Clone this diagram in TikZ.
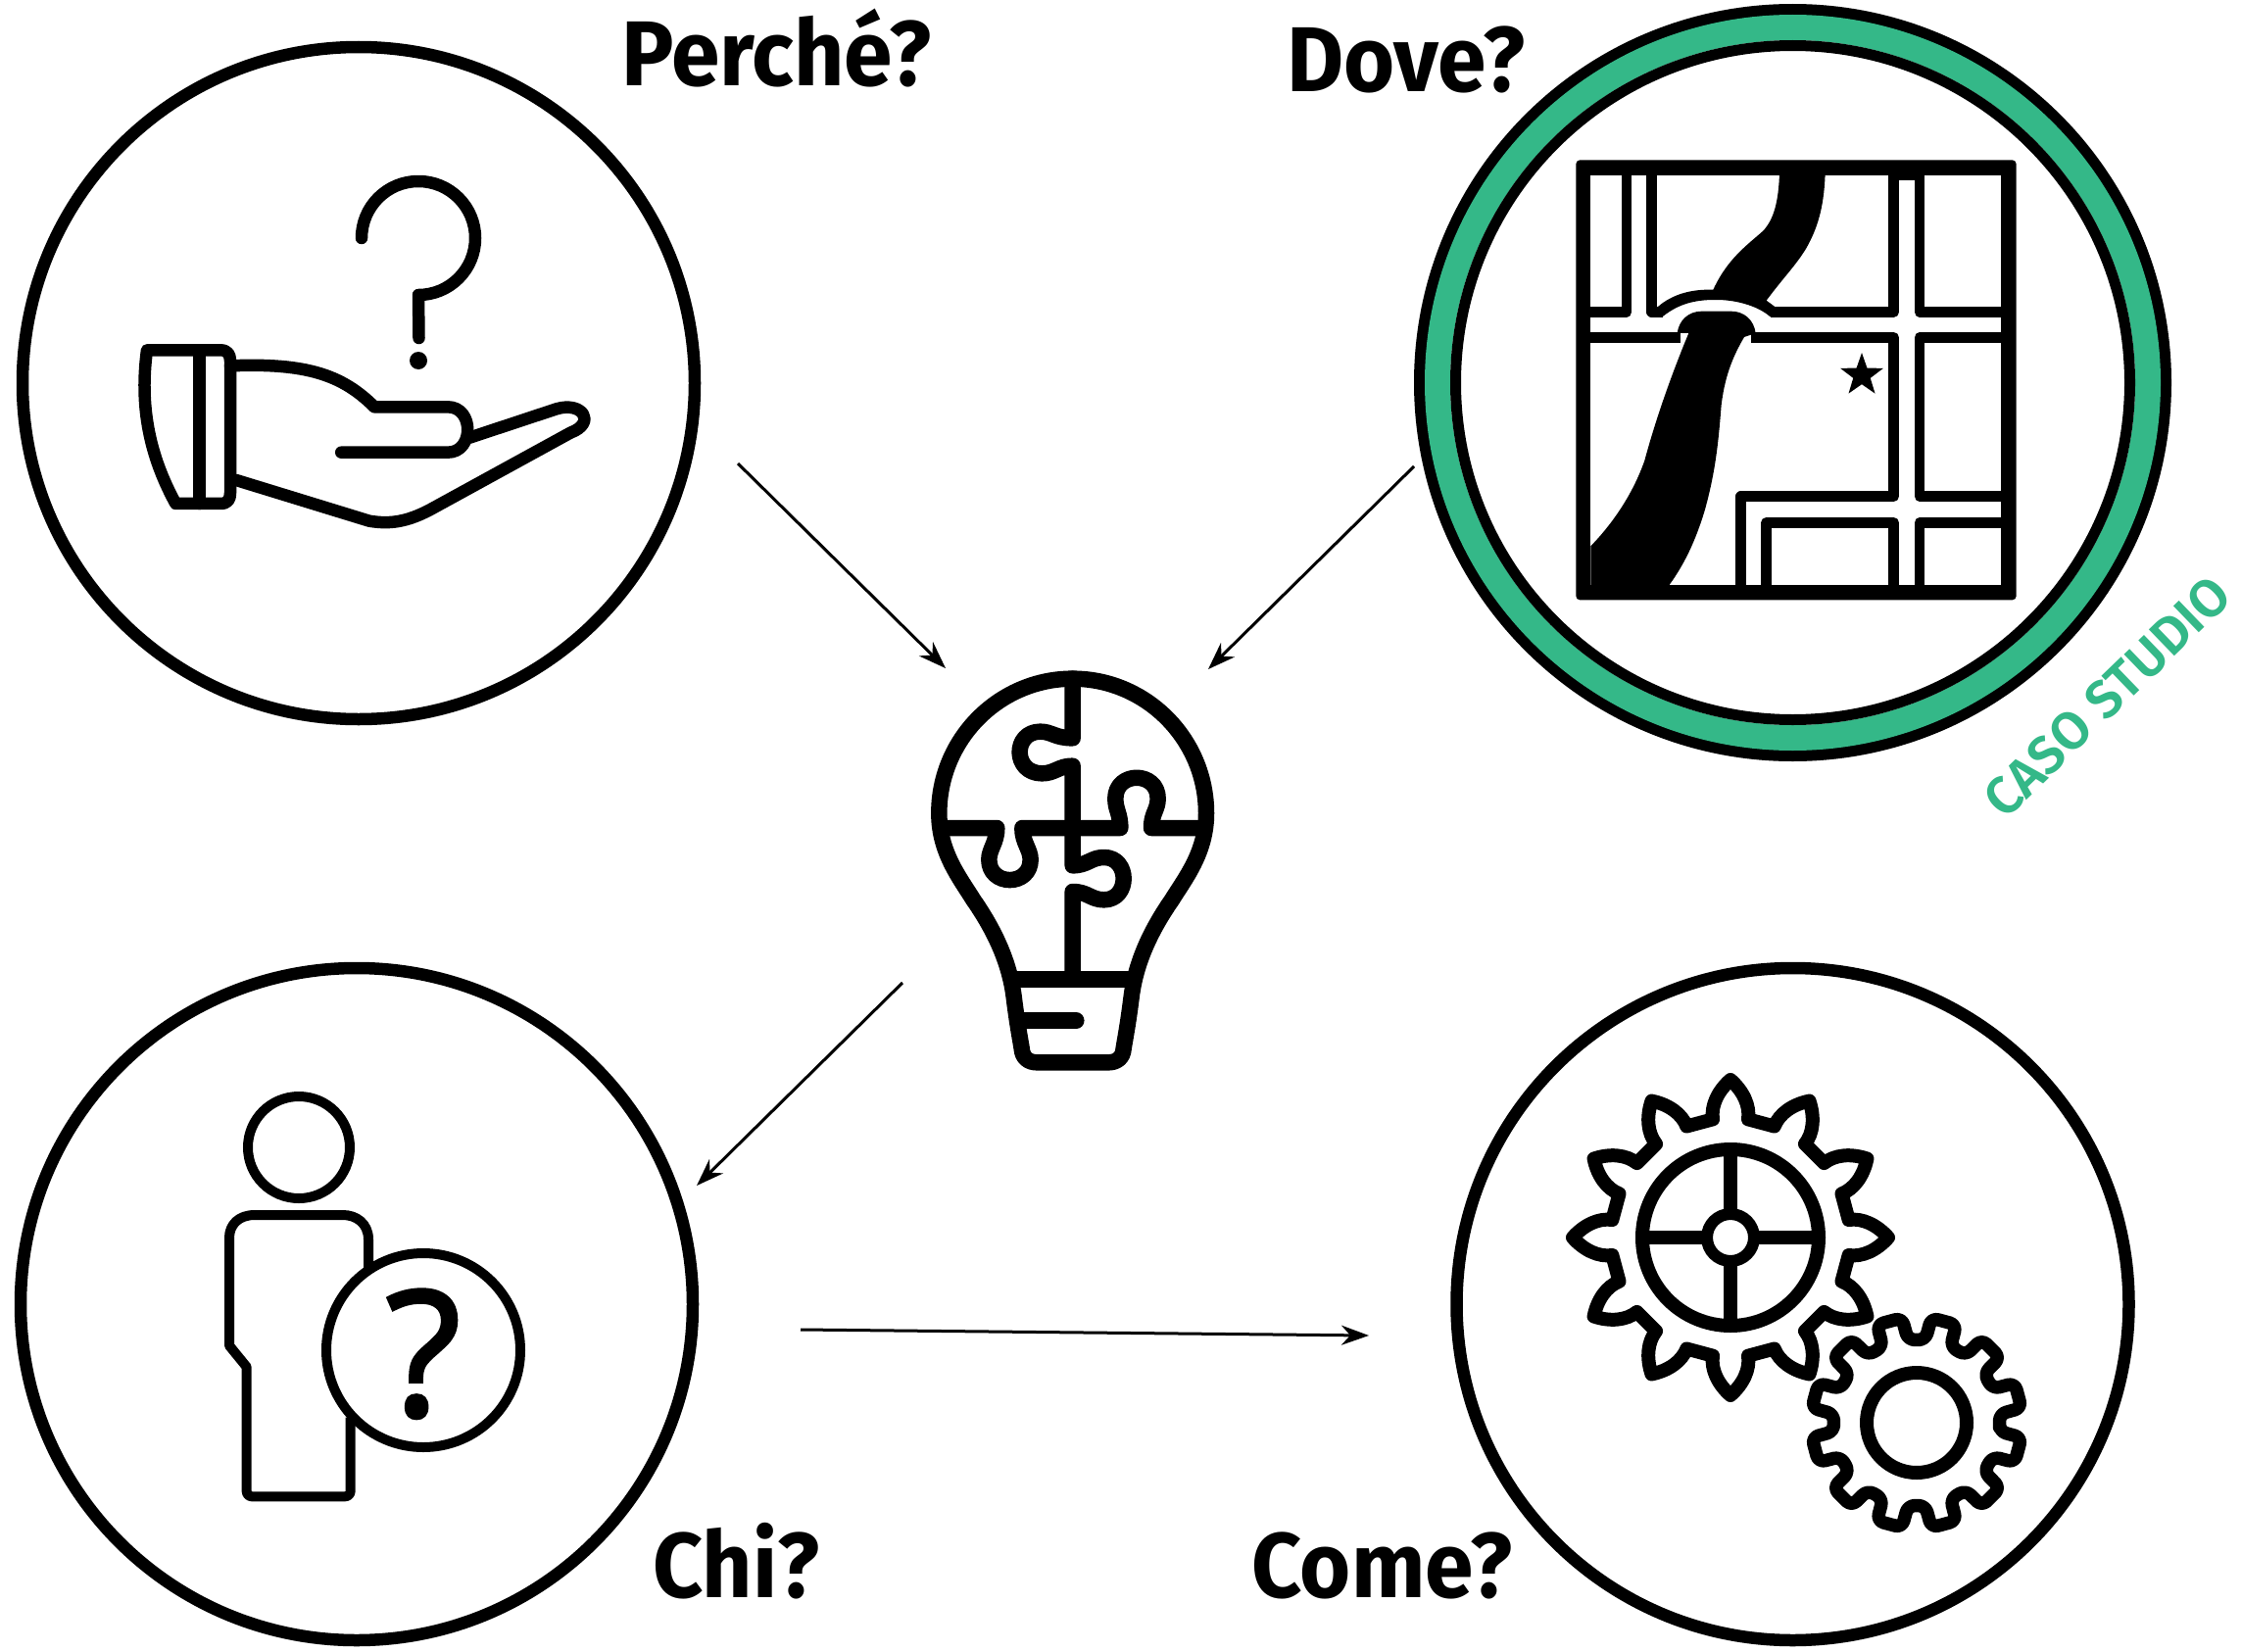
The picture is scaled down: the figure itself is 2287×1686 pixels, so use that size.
\documentclass[tikz,border=0pt]{standalone}
\usepackage{fontspec}
\usetikzlibrary{arrows.meta,shapes.geometric}
\newfontfamily\labfont[FakeStretch=0.95]{Fira Sans Bold}
\newfontfamily\casofont{Fira Sans SemiBold}
\newfontfamily\qfont[FakeBold=2]{Open Sans}
\definecolor{casogreen}{HTML}{34B888}
\tikzset{
 ringnode/.style={circle,draw=black,line width=12.5pt,minimum size=686pt,inner sep=0pt,fill=white},
 flowarrow/.style={draw=black,line width=3pt,-{Stealth[length=28pt,width=20pt,inset=9pt]}},
 ink/.style={draw=black,line width=#1,line join=round,line cap=round},
 ink/.default=12pt,
 qlabel/.style={anchor=base west,inner sep=0pt,font=\labfont\fontsize{94}{94}\selectfont},
 zhand/.style={shift={(100,140)},x=0.35714pt,y=-0.33333pt},
 zmap/.style={shift={(1580,140)},x=0.33333pt,y=-0.33333pt},
 zbulb/.style={shift={(930,670)},x=0.33333pt,y=-0.33333pt},
 zman/.style={shift={(210,1100)},x=0.33333pt,y=-0.33333pt},
}
\begin{document}
\begin{tikzpicture}[x=1pt,y=-1pt]
\useasboundingbox (0,0) rectangle (2287,1686);
\fill[white] (0,0) rectangle (2287,1686);
% circles
\node[ringnode] (why) at (366,391) {};
\node[ringnode] (who) at (364,1331) {};
\node[ringnode] (how) at (1829.5,1331) {};
\node[ringnode,line width=11.5pt,minimum size=761.5pt] (whereout) at (1829.5,390.5) {};
\node[circle,draw=casogreen,line width=26pt,minimum size=725pt,inner sep=0pt] (wheregreen) at (1829.5,390.5) {};
\node[circle,draw=black,line width=11pt,minimum size=688pt,inner sep=0pt,fill=white] (where) at (1829.5,390.5) {};
% labels
\node[qlabel] (lwhy) at (634,88) {Perché?};
\node[qlabel] (lwhere) at (1313,93) {Dove?};
\node[qlabel] (lwho) at (666,1630) {Chi?};
\node[qlabel] (lhow) at (1277,1630) {Come?};
\node[rotate=44,text=casogreen,inner sep=0pt,font=\casofont\fontsize{54}{54}\selectfont] (caso) at (2150,711) {CASO STUDIO};
% arrows
\coordinate (a1s) at (753,473); \coordinate (a1e) at (965,682);
\coordinate (a2s) at (1443,476); \coordinate (a2e) at (1233,683);
\coordinate (a3s) at (921,1003); \coordinate (a3e) at (711,1210);
\coordinate (a4s) at (817,1357); \coordinate (a4e) at (1397,1363);
\draw[flowarrow] (a1s) -- (a1e);
\draw[flowarrow] (a2s) -- (a2e);
\draw[flowarrow] (a3s) -- (a3e);
\draw[flowarrow] (a4s) -- (a4e);
% hand icon
\draw[ink=12.5pt] (369,243) arc[start angle=180,end angle=-90,radius=58pt] -- (427.5,345);
\fill (427,368) circle[radius=9pt];
\begin{scope}[zhand]
\draw[ink=12.5pt] (140,652) -- (350,652) .. controls (370,652) and (378,665) .. (378,685) -- (378,1090) .. controls (378,1110) and (370,1122) .. (350,1122) -- (222,1122) .. controls (160,1000) and (115,850) .. (140,652) -- cycle;
\draw[ink=12.5pt] (290,652) -- (290,1122);
\draw[ink=12.5pt] (378,700) .. controls (600,690) and (700,730) .. (790,826) -- (1000,826) .. controls (1075,826) and (1075,965) .. (1000,965) -- (695,965);
\draw[ink=12.5pt] (1062,920) -- (1310,832) .. controls (1385,808) and (1425,875) .. (1350,905) -- (950,1140) .. controls (880,1180) and (830,1185) .. (775,1175) -- (395,1050);
\end{scope}
% map icon
\begin{scope}[zmap]
\fill[rounded corners=4pt] (85,70) rectangle (1433,1417);
\fill[white] (130,117) rectangle (1385,1370);
\fill (1074,117) rectangle (1121,132);
\draw[ink=10.5pt,line cap=butt] (240,117) -- (240,535) -- (130,535);
\draw[ink=10.5pt,line cap=butt] (317,117) -- (317,535) -- (350,535);
\draw[ink=10.5pt,line cap=butt] (680,535) -- (1058,535) -- (1058,117);
\draw[ink=10.5pt,line cap=butt] (1137,117) -- (1137,535) -- (1385,535);
\draw[ink=10.5pt,line cap=butt] (130,613) -- (405,613);
\draw[ink=10.5pt,line cap=butt] (620,613) -- (1058,613) -- (1058,1100) -- (590,1100) -- (590,1370);
\draw[ink=10.5pt,line cap=butt] (1385,613) -- (1137,613) -- (1137,1100) -- (1385,1100);
\draw[ink=10.5pt,line cap=butt] (668,1370) -- (668,1180) -- (1058,1180) -- (1058,1370);
\draw[ink=10.5pt,line cap=butt] (1137,1370) -- (1137,1180) -- (1385,1180);
\fill (708,110) .. controls (705,200) and (690,250) .. (660,285) .. controls (610,330) and (550,370) .. (505,467) .. controls (440,465) and (380,480) .. (335,520) -- (335,548) -- (352,548) .. controls (400,510) and (450,498) .. (510,498) .. controls (570,497) and (640,515) .. (680,550) -- (695,520) -- (668,500) .. controls (720,430) and (760,390) .. (790,340) .. controls (830,270) and (845,200) .. (848,110) -- cycle;
\fill (395,600) .. controls (400,560) and (430,533) .. (470,533) -- (560,533) .. controls (600,533) and (630,560) .. (635,600) -- (600,612) .. controls (560,680) and (540,740) .. (530,820) .. controls (520,950) and (510,1030) .. (480,1140) .. controls (450,1240) and (415,1310) .. (370,1372) -- (130,1372) -- (130,1252) .. controls (200,1180) and (260,1090) .. (295,990) .. controls (330,860) and (380,720) .. (430,600) -- cycle;
\end{scope}
\node[star,star points=5,star point ratio=2.5,fill=black,inner sep=0pt,minimum size=46pt] (mapstar) at (1900,383) {};
% bulb icon
\begin{scope}[zbulb]
\draw[ink=16.5pt] (85,480) .. controls (85,253) and (269,68) .. (494,68) .. controls (719,68) and (903,253) .. (903,480) .. controls (903,600) and (838,680) .. (798,745) .. controls (718,860) and (683,960) .. (673,1050) .. controls (663,1130) and (653,1180) .. (650,1200) .. controls (648,1230) and (628,1243) .. (603,1243) -- (385,1243) .. controls (360,1243) and (340,1230) .. (338,1200) .. controls (335,1180) and (325,1130) .. (315,1050) .. controls (305,960) and (270,860) .. (190,745) .. controls (150,680) and (85,600) .. (85,480) -- cycle;
\draw[ink=16.5pt,line cap=butt] (300,988) -- (690,988);
\draw[ink=16.5pt] (345,1115) -- (505,1115);
\draw[ink=16.5pt] (494,68) -- (494,250) .. controls (440,250) and (430,230) .. (395,230) .. controls (310,230) and (310,358) .. (400,358) .. controls (440,358) and (450,335) .. (494,335) -- (494,640) .. controls (540,640) and (550,615) .. (590,615) .. controls (670,615) and (670,745) .. (590,745) .. controls (550,745) and (540,720) .. (494,720) -- (494,988);
\draw[ink=16.5pt,line cap=butt] (95,525) -- (262,525) .. controls (262,570) and (238,590) .. (238,622) .. controls (238,705) and (365,705) .. (365,622) .. controls (365,590) and (340,570) .. (340,525) -- (640,525) .. controls (640,480) and (625,470) .. (625,435) .. controls (625,350) and (755,350) .. (755,435) .. controls (755,470) and (735,480) .. (735,525) -- (885,525);
\end{scope}
% person icon
\node[circle,draw=black,line width=10pt,minimum size=104pt,inner sep=0pt] (head) at (305,1171) {};
\begin{scope}[zman]
\draw[ink=10pt,line cap=butt] (498,620) -- (498,495) .. controls (498,445) and (460,420) .. (420,420) -- (150,420) .. controls (100,420) and (72,450) .. (72,490) -- (72,820) -- (125,885) -- (125,1265) .. controls (125,1275) and (132,1282) .. (142,1282) -- (425,1282) .. controls (436,1282) and (443,1275) .. (443,1265) -- (443,1040);
\end{scope}
\node[circle,draw=black,line width=10pt,minimum size=198pt,inner sep=0pt,fill=white] (badge) at (432,1378) {};
\node[anchor=base,inner sep=0pt,font=\qfont\fontsize{178}{178}\selectfont] (badgeq) at (432,1445) {?};
% big gear
\begin{scope}[shift={(1766,1263)}]
\draw[ink=14pt] (-8.5:122) \foreach \a in {0,30,...,330} { .. controls ({\a-8.5}:136) and ({\a-5}:150) .. (\a:161) .. controls ({\a+5}:150) and ({\a+8.5}:136) .. ({\a+8.5}:122) -- ({\a+21.5}:122) } -- cycle;
\draw[ink=14pt,line cap=butt] (-90,0) -- (-28,0) (28,0) -- (90,0) (0,-90) -- (0,-28) (0,28) -- (0,90);
\draw[ink=14pt] (0,0) circle[radius=90pt];
\draw[ink=12pt,fill=white] (0,0) circle[radius=24pt];
\end{scope}
% small gear
\begin{scope}[shift={(1956,1452)}]
\draw[ink=13.5pt,rounded corners=7pt] (6:85) \foreach \a in {15,45,...,345} { -- ({\a-9}:85) -- ({\a-7}:108) -- ({\a+7}:108) -- ({\a+9}:85) } -- cycle;
\draw[ink=14pt] (0,0) circle[radius=51pt];
\end{scope}
\end{tikzpicture}
\end{document}
